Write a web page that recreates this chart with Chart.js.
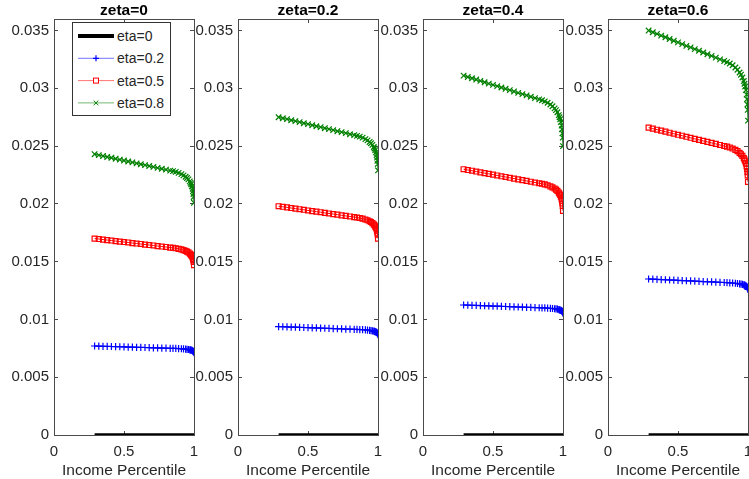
<!DOCTYPE html>
<html>
<head>
<meta charset="utf-8">
<script src="https://cdn.jsdelivr.net/npm/chart.js@4.4.0/dist/chart.umd.min.js"></script>
<style>
body { margin: 0; width: 749px; height: 479px; overflow: hidden; position: relative; background: #fff; font-family: "Liberation Sans", Arial, sans-serif; }
.panel { position: absolute; top: 0; width: 202px; height: 479px; }
#legend { position: absolute; left: 72px; top: 22px; width: 97px; height: 92px; border: 1px solid #333; background: #fff; }
#legend svg { position: absolute; left: 0; top: 0; }
#legend span { position: absolute; left: 44px; font-size: 14px; color: #262626; line-height: 16px; }
</style>
</head>
<body>
<div id="legend"></div>
<script>
// subplot titles and legend names
const zetaLabels = ["zeta=0", "zeta=0.2", "zeta=0.4", "zeta=0.6"];
const etaLabels = ["eta=0", "eta=0.2", "eta=0.5", "eta=0.8"];

// axis ticks
const xTicks = [0, 0.5, 1];
const yTicks = [0, 0.005, 0.01, 0.015, 0.02, 0.025, 0.03, 0.035];

// income percentile grid (x)
const percentile = [0.29, 0.32, 0.35, 0.38, 0.41, 0.44, 0.47, 0.50, 0.53, 0.56, 0.59, 0.62, 0.65, 0.68, 0.71, 0.74, 0.77, 0.80, 0.83,
    0.85, 0.87, 0.89, 0.91, 0.925, 0.94, 0.95, 0.96, 0.97, 0.975, 0.98, 0.985, 0.99, 0.993, 0.996, 0.998, 1.0];

// eta=0 is flat at zero in every panel
const eta00 = [0, 0, 0, 0, 0, 0, 0, 0, 0, 0, 0, 0, 0, 0, 0, 0, 0, 0, 0, 0, 0, 0, 0, 0, 0, 0, 0, 0, 0, 0, 0, 0, 0, 0, 0, 0];

// zeta=0
const z00_e02 = [0.007700, 0.007689, 0.007678, 0.007668, 0.007657, 0.007646, 0.007635, 0.007624, 0.007613, 0.007602, 0.007591, 0.007581,
    0.007570, 0.007559, 0.007548, 0.007537, 0.007526, 0.007515, 0.007504, 0.007497, 0.007488, 0.007477, 0.007462, 0.007448,
    0.007430, 0.007416, 0.007398, 0.007375, 0.007358, 0.007340, 0.007317, 0.007288, 0.007259, 0.007224, 0.007190, 0.007120];
const z00_e05 = [0.01700, 0.01696, 0.01691, 0.01687, 0.01683, 0.01678, 0.01674, 0.01670, 0.01666, 0.01661, 0.01657, 0.01653,
    0.01648, 0.01644, 0.01640, 0.01635, 0.01631, 0.01627, 0.01622, 0.01620, 0.01616, 0.01611, 0.01606, 0.01600,
    0.01593, 0.01587, 0.01580, 0.01571, 0.01564, 0.01557, 0.01548, 0.01537, 0.01525, 0.01511, 0.01498, 0.01470];
const z00_e08 = [0.02430, 0.02422, 0.02414, 0.02406, 0.02399, 0.02391, 0.02383, 0.02375, 0.02367, 0.02359, 0.02351, 0.02343,
    0.02336, 0.02328, 0.02320, 0.02312, 0.02304, 0.02296, 0.02288, 0.02283, 0.02277, 0.02268, 0.02258, 0.02247,
    0.02235, 0.02224, 0.02212, 0.02195, 0.02182, 0.02170, 0.02153, 0.02132, 0.02111, 0.02086, 0.02060, 0.02010];

// zeta=0.2
const z02_e02 = [0.009380, 0.009367, 0.009354, 0.009341, 0.009328, 0.009314, 0.009301, 0.009288, 0.009275, 0.009262, 0.009249, 0.009236,
    0.009223, 0.009209, 0.009196, 0.009183, 0.009170, 0.009157, 0.009144, 0.009135, 0.009125, 0.009111, 0.009093, 0.009076,
    0.009055, 0.009037, 0.009016, 0.008988, 0.008967, 0.008946, 0.008918, 0.008883, 0.008848, 0.008806, 0.008764, 0.008680];
const z02_e05 = [0.01980, 0.01975, 0.01970, 0.01964, 0.01959, 0.01954, 0.01949, 0.01943, 0.01938, 0.01933, 0.01928, 0.01922,
    0.01917, 0.01912, 0.01907, 0.01901, 0.01896, 0.01891, 0.01886, 0.01882, 0.01878, 0.01872, 0.01865, 0.01858,
    0.01850, 0.01843, 0.01834, 0.01823, 0.01815, 0.01806, 0.01795, 0.01781, 0.01767, 0.01750, 0.01734, 0.01700];
const z02_e08 = [0.02750, 0.02741, 0.02733, 0.02724, 0.02716, 0.02707, 0.02698, 0.02690, 0.02681, 0.02672, 0.02664, 0.02655,
    0.02647, 0.02638, 0.02629, 0.02621, 0.02612, 0.02603, 0.02595, 0.02589, 0.02582, 0.02573, 0.02561, 0.02550,
    0.02536, 0.02525, 0.02511, 0.02492, 0.02479, 0.02465, 0.02446, 0.02423, 0.02400, 0.02373, 0.02345, 0.02290];

// zeta=0.4
const z04_e02 = [0.011250, 0.011237, 0.011224, 0.011211, 0.011198, 0.011184, 0.011171, 0.011158, 0.011145, 0.011132, 0.011119, 0.011106,
    0.011093, 0.011079, 0.011066, 0.011053, 0.011040, 0.011027, 0.011014, 0.011005, 0.010995, 0.010981, 0.010963, 0.010946,
    0.010925, 0.010907, 0.010886, 0.010858, 0.010837, 0.010816, 0.010788, 0.010753, 0.010718, 0.010676, 0.010634, 0.010550];
const z04_e05 = [0.02300, 0.02293, 0.02287, 0.02280, 0.02273, 0.02266, 0.02260, 0.02253, 0.02246, 0.02239, 0.02233, 0.02226,
    0.02219, 0.02212, 0.02206, 0.02199, 0.02192, 0.02185, 0.02179, 0.02174, 0.02169, 0.02161, 0.02152, 0.02143,
    0.02133, 0.02124, 0.02113, 0.02098, 0.02088, 0.02077, 0.02062, 0.02044, 0.02026, 0.02005, 0.01983, 0.01940];
const z04_e08 = [0.03110, 0.03098, 0.03087, 0.03076, 0.03064, 0.03053, 0.03041, 0.03030, 0.03019, 0.03007, 0.02996, 0.02984,
    0.02973, 0.02961, 0.02950, 0.02939, 0.02927, 0.02915, 0.02904, 0.02897, 0.02887, 0.02875, 0.02860, 0.02845,
    0.02826, 0.02811, 0.02793, 0.02768, 0.02750, 0.02732, 0.02707, 0.02677, 0.02646, 0.02610, 0.02573, 0.02500];

// zeta=0.6
const z06_e02 = [0.013500, 0.013483, 0.013466, 0.013450, 0.013433, 0.013415, 0.013399, 0.013382, 0.013365, 0.013348, 0.013331, 0.013315,
    0.013298, 0.013280, 0.013264, 0.013247, 0.013230, 0.013213, 0.013196, 0.013185, 0.013172, 0.013154, 0.013131, 0.013109,
    0.013082, 0.013059, 0.013032, 0.012996, 0.012969, 0.012942, 0.012906, 0.012861, 0.012816, 0.012762, 0.012708, 0.012600];
const z06_e05 = [0.02660, 0.02651, 0.02642, 0.02634, 0.02625, 0.02616, 0.02607, 0.02598, 0.02590, 0.02581, 0.02572, 0.02563,
    0.02554, 0.02545, 0.02537, 0.02528, 0.02519, 0.02510, 0.02501, 0.02496, 0.02488, 0.02479, 0.02467, 0.02456,
    0.02442, 0.02430, 0.02416, 0.02397, 0.02383, 0.02369, 0.02350, 0.02326, 0.02303, 0.02275, 0.02246, 0.02190];
const z06_e08 = [0.03500, 0.03485, 0.03471, 0.03456, 0.03442, 0.03427, 0.03412, 0.03398, 0.03383, 0.03368, 0.03354, 0.03339,
    0.03325, 0.03310, 0.03295, 0.03281, 0.03266, 0.03251, 0.03237, 0.03227, 0.03215, 0.03200, 0.03180, 0.03161,
    0.03137, 0.03118, 0.03094, 0.03063, 0.03040, 0.03016, 0.02985, 0.02946, 0.02907, 0.02860, 0.02814, 0.02720];

const panelSeries = [
    [eta00, z00_e02, z00_e05, z00_e08],
    [eta00, z02_e02, z02_e05, z02_e08],
    [eta00, z04_e02, z04_e05, z04_e08],
    [eta00, z06_e02, z06_e05, z06_e08]
];

const lineColors = ["#000000", "#0000ff", "#ff0000", "#008000"];
const markerStyles = [false, "cross", "rect", "crossRot"];
const markerRadius = [0, 3.6, 3.5, 3.9];
const lineWidths = [3.5, 1, 1, 1];

const panelLeft = [54, 238, 423, 608];
const axisColor = "#4a4a4a";
const textColor = "#262626";

Chart.defaults.font.family = '"Liberation Sans", Arial, sans-serif';

function toPoints(vals) {
    let pts = [];
    for (let i = 0; i < vals.length; i++) {
        pts.push({x: percentile[i], y: vals[i]});
    }
    return pts;
}

function setTicks(list) {
    return function (scale) {
        scale.ticks = list.map(v => ({value: v}));
    };
}

// fixed axis size, and no extra padding from the tick labels
function fixSize(w, h) {
    return function (scale) {
        if (w !== null) scale.width = w;
        if (h !== null) scale.height = h;
        scale.paddingLeft = 0;
        scale.paddingRight = 0;
        scale.paddingTop = 0;
        scale.paddingBottom = 0;
    };
}

function boxAxis(extra) {
    return Object.assign({
        grid: {drawOnChartArea: false, drawTicks: true, tickLength: -4, color: axisColor, lineWidth: 1},
        border: {display: true, color: axisColor, width: 1}
    }, extra);
}

function createPanel(p) {
    const div = document.createElement("div");
    div.className = "panel";
    div.style.left = (panelLeft[p] - 54) + "px";
    const canvas = document.createElement("canvas");
    canvas.width = 202;
    canvas.height = 479;
    div.appendChild(canvas);
    document.body.appendChild(div);

    let datasets = [];
    for (let s = 0; s < etaLabels.length; s++) {
        datasets.push({
            label: etaLabels[s],
            data: toPoints(panelSeries[p][s]),
            borderColor: lineColors[s],
            backgroundColor: lineColors[s],
            borderWidth: lineWidths[s],
            pointStyle: markerStyles[s],
            pointRadius: markerRadius[s],
            pointBorderColor: lineColors[s],
            pointBackgroundColor: "rgba(0,0,0,0)",
            pointBorderWidth: 1.2,
            tension: 0,
            fill: false
        });
    }

    new Chart(canvas, {
        type: "line",
        data: {datasets: datasets},
        options: {
            responsive: false,
            animation: false,
            devicePixelRatio: 1,
            layout: {padding: {left: 0, right: 8, top: 0, bottom: 0}},
            scales: {
                x: boxAxis({
                    type: "linear", position: "bottom", min: 0, max: 1,
                    afterBuildTicks: setTicks(xTicks),
                    afterFit: fixSize(null, 44),
                    ticks: {padding: 11.5, color: textColor, font: {size: 15}, maxRotation: 0, autoSkip: false,
                        callback: v => String(v)},
                    title: {display: true, text: "Income Percentile", color: textColor, font: {size: 15.5, lineHeight: 1},
                        padding: {top: 0, bottom: 0.3}}
                }),
                y: boxAxis({
                    type: "linear", position: "left", min: 0, max: 0.036,
                    afterBuildTicks: setTicks(yTicks),
                    afterFit: fixSize(54, null),
                    ticks: {padding: 9, color: textColor, font: {size: 15}, callback: v => String(v)}
                }),
                x2: boxAxis({
                    type: "linear", position: "top", min: 0, max: 1,
                    afterBuildTicks: setTicks(xTicks),
                    afterFit: fixSize(null, 0),
                    ticks: {display: false}
                }),
                y2: boxAxis({
                    type: "linear", position: "right", min: 0, max: 0.036,
                    afterBuildTicks: setTicks(yTicks),
                    afterFit: fixSize(0, null),
                    ticks: {display: false}
                })
            },
            plugins: {
                legend: {display: false},
                tooltip: {enabled: false},
                title: {
                    display: true, fullSize: false, text: zetaLabels[p], color: "#000",
                    font: {size: 15.5, weight: "bold", lineHeight: 1.1}, padding: {top: 1.95, bottom: 0}
                }
            }
        }
    });
}

for (let p = 0; p < zetaLabels.length; p++) {
    createPanel(p);
}

// legend box inside the first panel
function buildLegend() {
    const legend = document.getElementById("legend");
    legend.parentNode.appendChild(legend);
    const ns = "http://www.w3.org/2000/svg";
    const svg = document.createElementNS(ns, "svg");
    svg.setAttribute("width", "97");
    svg.setAttribute("height", "92");
    for (let s = 0; s < etaLabels.length; s++) {
        const cy = 13 + s * 22.3;
        const line = document.createElementNS(ns, "line");
        line.setAttribute("x1", 5);
        line.setAttribute("x2", 41);
        line.setAttribute("y1", cy);
        line.setAttribute("y2", cy);
        line.setAttribute("stroke", lineColors[s]);
        line.setAttribute("stroke-width", s === 0 ? 4 : 1);
        if (s > 0) line.setAttribute("stroke-opacity", 0.55);
        svg.appendChild(line);
        const cx = 23;
        if (markerStyles[s] === "cross") {
            const path = document.createElementNS(ns, "path");
            path.setAttribute("d", `M${cx - 3} ${cy} H${cx + 3} M${cx} ${cy - 3} V${cy + 3}`);
            path.setAttribute("stroke", lineColors[s]);
            path.setAttribute("stroke-width", 1.2);
            svg.appendChild(path);
        } else if (markerStyles[s] === "rect") {
            const r = document.createElementNS(ns, "rect");
            r.setAttribute("x", cx - 2.5);
            r.setAttribute("y", cy - 2.5);
            r.setAttribute("width", 5);
            r.setAttribute("height", 5);
            r.setAttribute("fill", "#fff");
            r.setAttribute("stroke", lineColors[s]);
            r.setAttribute("stroke-width", 1);
            svg.appendChild(r);
        } else if (markerStyles[s] === "crossRot") {
            const path = document.createElementNS(ns, "path");
            path.setAttribute("d", `M${cx - 2.3} ${cy - 2.3} L${cx + 2.3} ${cy + 2.3} M${cx - 2.3} ${cy + 2.3} L${cx + 2.3} ${cy - 2.3}`);
            path.setAttribute("stroke", lineColors[s]);
            path.setAttribute("stroke-width", 1);
            svg.appendChild(path);
        }
        const label = document.createElement("span");
        label.textContent = etaLabels[s];
        label.style.top = (cy - 8) + "px";
        legend.appendChild(label);
    }
    legend.appendChild(svg);
}
buildLegend();
</script>
</body>
</html>
